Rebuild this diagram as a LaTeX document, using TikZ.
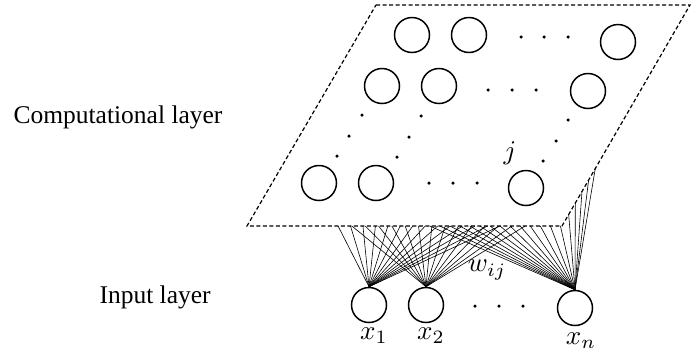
\documentclass[tikz,border=0pt]{standalone}
\usepackage{fontspec}
\setmainfont{Liberation Serif}
\usetikzlibrary{calc}
\begin{document}
\begin{tikzpicture}[x=1pt,y=-1pt,
  neuron/.style={circle,draw,line width=1.5pt,minimum size=35pt,inner sep=0pt},
  plane/.style={draw,dashed,line width=1.2pt,dash pattern=on 4pt off 2.5pt},
  wire/.style={line width=0.6pt},
  dotc/.style={circle,fill,inner sep=0pt,minimum size=3.5pt},
  lbl/.style={font=\fontsize{25.5}{28}\selectfont},
  mlbl/.style={scale=2.7,inner sep=0pt}]
\useasboundingbox (0,0) rectangle (693,357);
% plane corners
\coordinate (TL) at (376,5);
\coordinate (TR) at (690,5);
\coordinate (BR) at (562,226);
\coordinate (BL) at (247,226);
% input neurons
\node[neuron] (x1) at (369,305) {};
\node[neuron] (x2) at (426,305) {};
\node[neuron] (xn) at (575,308) {};
% fans
\foreach \k in {0,...,13}{
  \pgfmathsetmacro{\ta}{0.289+\k*(0.803-0.289)/13}
  \coordinate (pa\k) at ($(BL)!\ta!(BR)$);
  \draw[wire] (x1.north) -- (pa\k);
  \pgfmathsetmacro{\tb}{0.333+\k*(0.883-0.333)/13}
  \coordinate (pb\k) at ($(BL)!\tb!(BR)$);
  \draw[wire] (x2.north) -- (pb\k);
  \pgfmathsetmacro{\tc}{0.58+\k*(0.995-0.58)/13}
  \coordinate (pc\k) at ($(BL)!\tc!(BR)$);
  \draw[wire] (xn.north) -- (pc\k);
}
\foreach \k in {1,...,5}{
  \pgfmathsetmacro{\td}{\k*0.26/5}
  \coordinate (pd\k) at ($(BR)!\td!(TR)$);
  \draw[wire] (xn.north) -- (pd\k);
}
% plane
\draw[plane] (TL) -- (TR) -- (BR) -- (BL) -- cycle;
% computational neurons
\node[neuron] (c11) at (412,35) {};
\node[neuron] (c12) at (469,35) {};
\node[neuron] (c1n) at (618,42) {};
\node[neuron] (c21) at (382,86) {};
\node[neuron] (c22) at (439,86) {};
\node[neuron] (c2n) at (588,91) {};
\node[neuron] (c31) at (319,183) {};
\node[neuron] (c32) at (376,183) {};
\node[neuron] (c3n) at (526,188) {};
% dots
\foreach \p in {(521,37),(544,37),(568,37),(488,90),(512,90),(536,90),
  (429,183),(453,183),(477,183),
  (362,115),(349,136),(337,156),(421,116),(409,137),(397,157),
  (568,120),(556,141),(543,161),
  (475,306),(499,306),(523,306)}
  \node[dotc] at \p {};
% labels
\node[mlbl] (j) at (510,153) {$j$};
\node[mlbl] (w) at (487,270) {$w_{ij}$};
\node[mlbl] (lx1) at (374,336) {$x_1$};
\node[mlbl] (lx2) at (431,336) {$x_2$};
\node[mlbl] (lxn) at (581,341) {$x_n$};
\node[lbl,anchor=west] (comp) at (10,117) {Computational layer};
\node[lbl,anchor=west] (inp) at (96,297) {Input layer};
\end{tikzpicture}
\end{document}
